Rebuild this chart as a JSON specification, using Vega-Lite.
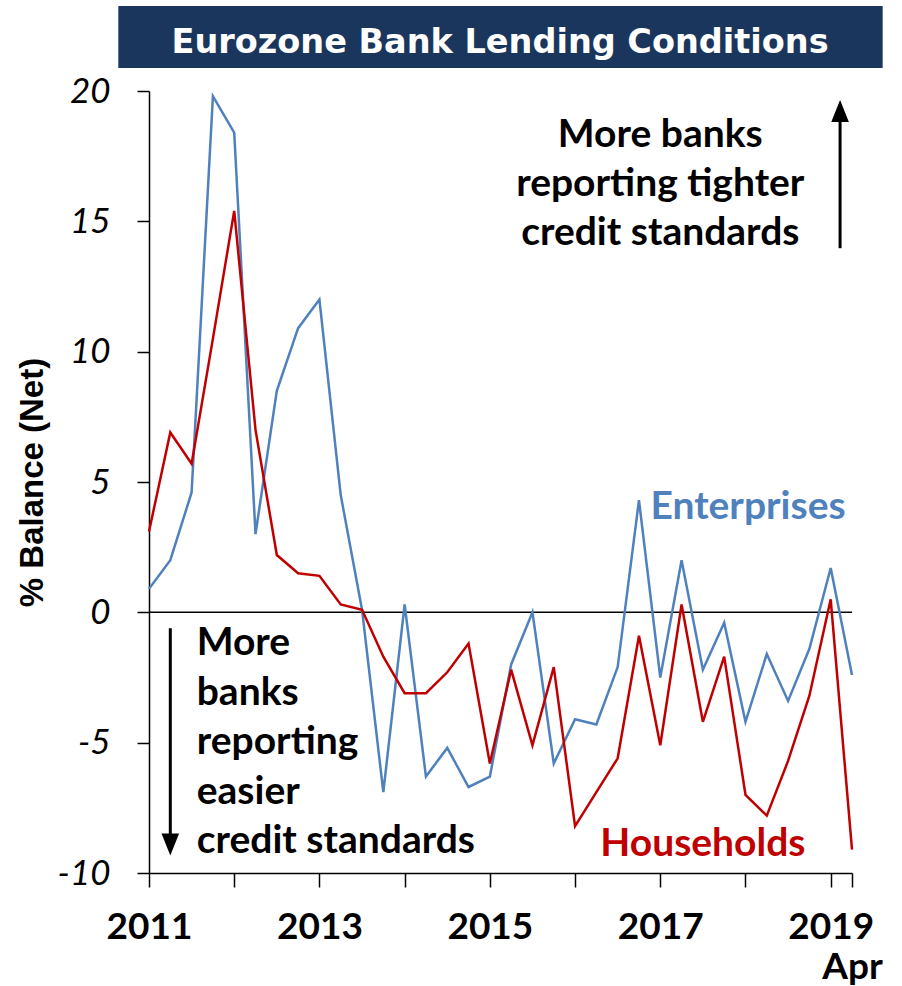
{
  "$schema": "https://vega.github.io/schema/vega-lite/v6.json",
  "width": 703,
  "height": 782,
  "autosize": {"type": "none"},
  "padding": {"left": 149, "top": 91, "right": 50, "bottom": 113},
  "background": "white",
  "config": {
    "view": {"stroke": null},
    "font": "Lato",
    "axis": {"grid": false, "domainColor": "black", "tickColor": "black", "domainWidth": 1.5, "tickWidth": 1.5, "labelColor": "black", "titleColor": "black", "labelFont": "Lato", "titleFont": "Liberation Sans"}
  },
  "layer": [
    {
      "data": {"values": [{}]},
      "mark": {"type": "rect", "color": "#1b365d"},
      "encoding": {
        "x": {"datum": 2010.64, "type": "quantitative"},
        "x2": {"datum": 2019.61},
        "y": {"datum": 23.26, "type": "quantitative"},
        "y2": {"datum": 20.88}
      }
    },
    {
      "data": {"values": [{}]},
      "mark": {"type": "text", "text": "Eurozone Bank Lending Conditions", "font": "DejaVu Sans", "color": "white", "fontSize": 33.5, "fontWeight": "bold", "align": "center", "baseline": "alphabetic"},
      "encoding": {
        "x": {"datum": 2015.12, "type": "quantitative"},
        "y": {"datum": 21.44, "type": "quantitative"}
      }
    },
    {
      "data": {"values": [{}]},
      "mark": {"type": "rule", "color": "black", "strokeWidth": 1.5},
      "encoding": {"y": {"datum": 0, "type": "quantitative"}}
    },
    {
      "data": {
        "values": [
          {"year": 2011.00, "series": "Enterprises", "balance": 0.9},
          {"year": 2011.25, "series": "Enterprises", "balance": 2.0},
          {"year": 2011.50, "series": "Enterprises", "balance": 4.6},
          {"year": 2011.75, "series": "Enterprises", "balance": 19.8},
          {"year": 2012.00, "series": "Enterprises", "balance": 18.4},
          {"year": 2012.25, "series": "Enterprises", "balance": 3.0},
          {"year": 2012.50, "series": "Enterprises", "balance": 8.5},
          {"year": 2012.75, "series": "Enterprises", "balance": 10.9},
          {"year": 2013.00, "series": "Enterprises", "balance": 12.0},
          {"year": 2013.25, "series": "Enterprises", "balance": 4.5},
          {"year": 2013.50, "series": "Enterprises", "balance": 0.1},
          {"year": 2013.75, "series": "Enterprises", "balance": -6.9},
          {"year": 2014.00, "series": "Enterprises", "balance": 0.3},
          {"year": 2014.25, "series": "Enterprises", "balance": -6.3},
          {"year": 2014.50, "series": "Enterprises", "balance": -5.2},
          {"year": 2014.75, "series": "Enterprises", "balance": -6.7},
          {"year": 2015.00, "series": "Enterprises", "balance": -6.3},
          {"year": 2015.25, "series": "Enterprises", "balance": -2.0},
          {"year": 2015.50, "series": "Enterprises", "balance": 0.0},
          {"year": 2015.75, "series": "Enterprises", "balance": -5.8},
          {"year": 2016.00, "series": "Enterprises", "balance": -4.1},
          {"year": 2016.25, "series": "Enterprises", "balance": -4.3},
          {"year": 2016.50, "series": "Enterprises", "balance": -2.1},
          {"year": 2016.75, "series": "Enterprises", "balance": 4.3},
          {"year": 2017.00, "series": "Enterprises", "balance": -2.5},
          {"year": 2017.25, "series": "Enterprises", "balance": 2.0},
          {"year": 2017.50, "series": "Enterprises", "balance": -2.2},
          {"year": 2017.75, "series": "Enterprises", "balance": -0.4},
          {"year": 2018.00, "series": "Enterprises", "balance": -4.2},
          {"year": 2018.25, "series": "Enterprises", "balance": -1.6},
          {"year": 2018.50, "series": "Enterprises", "balance": -3.4},
          {"year": 2018.75, "series": "Enterprises", "balance": -1.4},
          {"year": 2019.00, "series": "Enterprises", "balance": 1.7},
          {"year": 2019.25, "series": "Enterprises", "balance": -2.4},
          {"year": 2011.00, "series": "Households", "balance": 3.1},
          {"year": 2011.25, "series": "Households", "balance": 6.9},
          {"year": 2011.50, "series": "Households", "balance": 5.7},
          {"year": 2011.75, "series": "Households", "balance": 10.5},
          {"year": 2012.00, "series": "Households", "balance": 15.4},
          {"year": 2012.25, "series": "Households", "balance": 7.0},
          {"year": 2012.50, "series": "Households", "balance": 2.2},
          {"year": 2012.75, "series": "Households", "balance": 1.5},
          {"year": 2013.00, "series": "Households", "balance": 1.4},
          {"year": 2013.25, "series": "Households", "balance": 0.3},
          {"year": 2013.50, "series": "Households", "balance": 0.1},
          {"year": 2013.75, "series": "Households", "balance": -1.7},
          {"year": 2014.00, "series": "Households", "balance": -3.1},
          {"year": 2014.25, "series": "Households", "balance": -3.1},
          {"year": 2014.50, "series": "Households", "balance": -2.3},
          {"year": 2014.75, "series": "Households", "balance": -1.2},
          {"year": 2015.00, "series": "Households", "balance": -5.8},
          {"year": 2015.25, "series": "Households", "balance": -2.2},
          {"year": 2015.50, "series": "Households", "balance": -5.1},
          {"year": 2015.75, "series": "Households", "balance": -2.1},
          {"year": 2016.00, "series": "Households", "balance": -8.2},
          {"year": 2016.25, "series": "Households", "balance": -6.9},
          {"year": 2016.50, "series": "Households", "balance": -5.6},
          {"year": 2016.75, "series": "Households", "balance": -0.9},
          {"year": 2017.00, "series": "Households", "balance": -5.1},
          {"year": 2017.25, "series": "Households", "balance": 0.3},
          {"year": 2017.50, "series": "Households", "balance": -4.2},
          {"year": 2017.75, "series": "Households", "balance": -1.7},
          {"year": 2018.00, "series": "Households", "balance": -7.0},
          {"year": 2018.25, "series": "Households", "balance": -7.8},
          {"year": 2018.50, "series": "Households", "balance": -5.7},
          {"year": 2018.75, "series": "Households", "balance": -3.2},
          {"year": 2019.00, "series": "Households", "balance": 0.5},
          {"year": 2019.25, "series": "Households", "balance": -9.1}
        ]
      },
      "mark": {"type": "line", "strokeWidth": 2.5},
      "encoding": {
        "x": {
          "field": "year",
          "type": "quantitative",
          "scale": {"domain": [2011, 2019.25], "nice": false, "zero": false},
          "axis": {
            "title": null,
            "values": [2011, 2012, 2013, 2014, 2015, 2016, 2017, 2018, 2019, 2019.25],
            "labelExpr": "datum.value == 2019.25 ? ['', 'Apr'] : (datum.value % 2 == 1 ? format(datum.value, 'd') : '')",
            "labelFontSize": 37,
            "labelFontWeight": "bold",
            "labelPadding": 22,
            "labelOverlap": false,
            "labelFlush": false,
            "labelLineHeight": 40,
            "tickSize": 14
          }
        },
        "y": {
          "field": "balance",
          "type": "quantitative",
          "scale": {"domain": [-10, 20], "nice": false},
          "axis": {
            "title": "% Balance (Net)",
            "titleFontSize": 33,
            "titleFontWeight": "bold",
            "titlePadding": 8,
            "values": [-10, -5, 0, 5, 10, 15, 20],
            "labelExpr": "'' + datum.value",
            "labelFontSize": 35,
            "labelFontStyle": "italic",
            "labelPadding": 27,
            "tickSize": 12
          }
        },
        "color": {
          "field": "series",
          "type": "nominal",
          "scale": {"domain": ["Enterprises", "Households"], "range": ["#4f81bd", "#c00000"]},
          "legend": null
        }
      }
    },
    {
      "data": {"values": [{}]},
      "mark": {"type": "text", "text": "Enterprises", "color": "#4f81bd", "fontSize": 39, "fontWeight": "bold", "align": "center", "baseline": "middle"},
      "encoding": {
        "x": {"datum": 2018.03, "type": "quantitative"},
        "y": {"datum": 4.03, "type": "quantitative"}
      }
    },
    {
      "data": {"values": [{}]},
      "mark": {"type": "text", "text": "Households", "color": "#c00000", "fontSize": 39, "fontWeight": "bold", "align": "center", "baseline": "middle"},
      "encoding": {
        "x": {"datum": 2017.5, "type": "quantitative"},
        "y": {"datum": -8.87, "type": "quantitative"}
      }
    },
    {
      "data": {"values": [{}]},
      "mark": {"type": "text", "text": "More banks\nreporting tighter\ncredit standards", "lineBreak": "\n", "lineHeight": 49, "color": "black", "fontSize": 39, "fontWeight": "bold", "align": "center", "baseline": "alphabetic"},
      "encoding": {
        "x": {"datum": 2017.0, "type": "quantitative"},
        "y": {"datum": 17.85, "type": "quantitative"}
      }
    },
    {
      "data": {"values": [{}]},
      "mark": {"type": "text", "text": "More\nbanks\nreporting\neasier\ncredit standards", "lineBreak": "\n", "lineHeight": 49.5, "color": "black", "fontSize": 39, "fontWeight": "bold", "align": "left", "baseline": "alphabetic"},
      "encoding": {
        "x": {"datum": 2011.56, "type": "quantitative"},
        "y": {"datum": -1.65, "type": "quantitative"}
      }
    },
    {
      "data": {"values": [{}]},
      "mark": {"type": "rule", "color": "black", "strokeWidth": 3},
      "encoding": {
        "x": {"datum": 2019.11, "type": "quantitative"},
        "y": {"datum": 13.97, "type": "quantitative"},
        "y2": {"datum": 19.0}
      }
    },
    {
      "data": {"values": [{}]},
      "mark": {"type": "point", "shape": "M0,-1L0.8,1L-0.8,1Z", "size": 484, "filled": true, "color": "black", "opacity": 1},
      "encoding": {
        "x": {"datum": 2019.11, "type": "quantitative"},
        "y": {"datum": 19.23, "type": "quantitative"}
      }
    },
    {
      "data": {"values": [{}]},
      "mark": {"type": "rule", "color": "black", "strokeWidth": 3},
      "encoding": {
        "x": {"datum": 2011.25, "type": "quantitative"},
        "y": {"datum": -0.61, "type": "quantitative"},
        "y2": {"datum": -8.7}
      }
    },
    {
      "data": {"values": [{}]},
      "mark": {"type": "point", "shape": "M0,1L0.8,-1L-0.8,-1Z", "size": 484, "filled": true, "color": "black", "opacity": 1},
      "encoding": {
        "x": {"datum": 2011.25, "type": "quantitative"},
        "y": {"datum": -8.91, "type": "quantitative"}
      }
    }
  ]
}
